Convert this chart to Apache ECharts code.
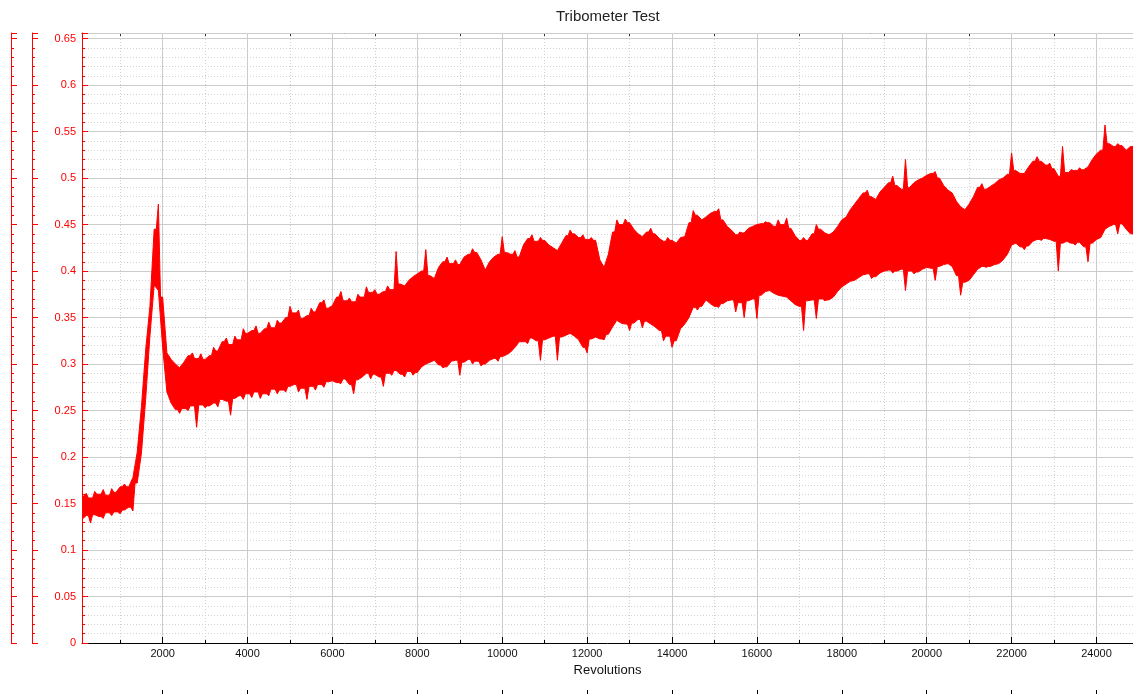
<!DOCTYPE html>
<html><head><meta charset="utf-8">
<script src="https://cdn.jsdelivr.net/npm/echarts@6/dist/echarts.min.js"></script>
<style>html,body{margin:0;padding:0;background:#fff}#c{width:1133px;height:694px}</style>
</head><body><div id="c"></div>
<script>
// Sampling of the trace: one envelope reading every 100 revolutions, starting at 100
const revStart = 100;
const revStep = 100;

// Upper envelope of the friction trace
const frictionHigh = [
  0.158,0.161,0.156,0.163,0.160,0.165,0.159,0.166,0.162,0.168,
  0.171,0.168,0.178,0.205,0.254,0.315,0.362,0.445,0.472,0.372,
  0.312,0.305,0.300,0.296,0.302,0.309,0.312,0.306,0.311,0.305,
  0.309,0.318,0.314,0.324,0.328,0.321,0.330,0.326,0.338,0.333,
  0.336,0.341,0.333,0.338,0.345,0.339,0.347,0.344,0.350,0.362,
  0.355,0.358,0.349,0.352,0.360,0.356,0.366,0.369,0.360,0.363,
  0.372,0.378,0.368,0.371,0.367,0.375,0.372,0.383,0.377,0.380,
  0.375,0.378,0.384,0.380,0.421,0.386,0.384,0.390,0.394,0.397,
  0.400,0.423,0.395,0.392,0.404,0.410,0.415,0.408,0.412,0.407,
  0.415,0.418,0.424,0.420,0.412,0.401,0.410,0.415,0.418,0.437,
  0.420,0.418,0.422,0.415,0.428,0.435,0.439,0.432,0.436,0.433,
  0.428,0.425,0.422,0.430,0.438,0.444,0.440,0.436,0.439,0.434,
  0.436,0.433,0.412,0.404,0.418,0.442,0.455,0.450,0.456,0.452,
  0.445,0.440,0.437,0.442,0.446,0.440,0.435,0.432,0.436,0.433,
  0.430,0.436,0.437,0.452,0.465,0.460,0.455,0.458,0.462,0.464,
  0.467,0.455,0.448,0.444,0.439,0.442,0.441,0.446,0.448,0.450,
  0.451,0.453,0.452,0.448,0.455,0.450,0.457,0.446,0.438,0.433,
  0.436,0.433,0.440,0.450,0.445,0.441,0.439,0.442,0.448,0.455,
  0.458,0.466,0.472,0.478,0.484,0.487,0.480,0.477,0.485,0.490,
  0.495,0.502,0.492,0.488,0.520,0.490,0.495,0.498,0.500,0.503,
  0.505,0.507,0.500,0.492,0.487,0.484,0.475,0.469,0.466,0.472,
  0.480,0.490,0.494,0.488,0.491,0.494,0.498,0.500,0.504,0.527,
  0.508,0.505,0.505,0.512,0.518,0.523,0.518,0.514,0.516,0.510,
  0.502,0.534,0.506,0.509,0.508,0.511,0.509,0.512,0.520,0.526,
  0.530,0.557,0.537,0.534,0.537,0.535,0.530,0.534
];

// Lower envelope of the friction trace
const frictionLow = [
  0.133,0.137,0.129,0.138,0.136,0.134,0.140,0.137,0.141,0.139,
  0.143,0.146,0.142,0.172,0.204,0.262,0.330,0.385,0.379,0.318,
  0.270,0.258,0.251,0.247,0.252,0.250,0.255,0.232,0.256,0.253,
  0.255,0.258,0.254,0.262,0.260,0.245,0.263,0.266,0.262,0.268,
  0.264,0.270,0.263,0.268,0.266,0.273,0.268,0.272,0.270,0.276,
  0.278,0.270,0.274,0.262,0.276,0.272,0.278,0.275,0.281,0.282,
  0.280,0.279,0.284,0.278,0.268,0.283,0.286,0.290,0.284,0.289,
  0.286,0.276,0.290,0.288,0.293,0.289,0.286,0.292,0.288,0.291,
  0.297,0.300,0.302,0.304,0.299,0.296,0.297,0.303,0.304,0.288,
  0.302,0.305,0.300,0.303,0.298,0.300,0.304,0.306,0.303,0.308,
  0.310,0.313,0.318,0.324,0.324,0.322,0.328,0.325,0.304,0.326,
  0.328,0.330,0.304,0.329,0.331,0.333,0.330,0.326,0.318,0.312,
  0.327,0.329,0.327,0.326,0.332,0.340,0.347,0.344,0.343,0.336,
  0.344,0.348,0.339,0.346,0.343,0.340,0.336,0.325,0.330,0.318,
  0.325,0.338,0.343,0.350,0.361,0.358,0.362,0.369,0.365,0.362,
  0.361,0.365,0.368,0.369,0.356,0.366,0.350,0.368,0.370,0.349,
  0.374,0.378,0.379,0.376,0.374,0.373,0.372,0.368,0.364,0.362,
  0.336,0.368,0.369,0.349,0.370,0.368,0.369,0.372,0.378,0.383,
  0.386,0.389,0.390,0.393,0.396,0.397,0.392,0.394,0.398,0.400,
  0.401,0.398,0.400,0.402,0.379,0.400,0.397,0.399,0.402,0.404,
  0.403,0.390,0.405,0.407,0.408,0.405,0.395,0.374,0.388,0.390,
  0.396,0.402,0.405,0.404,0.405,0.407,0.408,0.412,0.418,0.428,
  0.430,0.426,0.423,0.427,0.432,0.434,0.433,0.435,0.434,0.432,
  0.400,0.430,0.432,0.430,0.428,0.431,0.426,0.410,0.430,0.434,
  0.436,0.445,0.448,0.450,0.440,0.451,0.445,0.440
];

const xRange = [100, 24860];
const yRange = [0, 0.656];
const xTickValues = [2000,4000,6000,8000,10000,12000,14000,16000,18000,20000,22000,24000];
const xMajorStep = 2000;
const xMinorStep = 1000;
const yMajorStep = 0.05;
const yMinorStep = 0.01;
const titleText = 'Tribometer Test';
const xName = 'Revolutions';

// Band outline: readings that stick out from their neighbours are drawn as narrow spikes
const n = frictionHigh.length;
const isPeak = j => j > 0 && j < n - 1 && frictionHigh[j] >= frictionHigh[j - 1] && frictionHigh[j] >= frictionHigh[j + 1];
const isTrough = j => j > 0 && j < n - 1 && frictionLow[j] <= frictionLow[j - 1] && frictionLow[j] <= frictionLow[j + 1];
const upperEdge = [];
const lowerEdge = [];
for (let i = 0; i < n; i++) {
  const r = revStart + i * revStep;
  upperEdge.push([r, frictionHigh[i]]);
  lowerEdge.push([r, frictionLow[i]]);
  if (i < n - 1 && (isPeak(i) || isPeak(i + 1))) {
    upperEdge.push([r + revStep / 2, Math.min(frictionHigh[i], frictionHigh[i + 1])]);
  }
  if (i < n - 1 && (isTrough(i) || isTrough(i + 1))) {
    lowerEdge.push([r + revStep / 2, Math.max(frictionLow[i], frictionLow[i + 1])]);
  }
}
upperEdge.push([xRange[1], frictionHigh[n - 1]]);
lowerEdge.push([xRange[1], frictionLow[n - 1]]);

const FONT = '"Liberation Sans", Arial, sans-serif';
const RED = '#ff0000';
const isMult = (v, s) => Math.abs(v / s - Math.round(v / s)) < 1e-6;

function xAx(o) {
  return Object.assign({
    type: 'value', min: xRange[0], max: xRange[1],
    axisLine: { show: false, onZero: false },
    axisTick: { show: false },
    axisLabel: { show: false },
    splitLine: { show: false }
  }, o);
}
function yAx(o) {
  return Object.assign({
    type: 'value', min: yRange[0], max: yRange[1],
    axisLine: { show: false, onZero: false },
    axisTick: { show: false },
    axisLabel: { show: false },
    splitLine: { show: false }
  }, o);
}

const chart = echarts.init(document.getElementById('c'), null, { renderer: 'canvas' });
chart.setOption({
  backgroundColor: '#ffffff',
  animation: false,
  title: {
    text: titleText, left: 556, top: 9, padding: 0,
    textStyle: { fontFamily: FONT, fontSize: 15, fontWeight: 'normal', color: '#222' }
  },
  grid: { left: 82, right: 0, top: 33, bottom: 51, containLabel: false },
  xAxis: [
    xAx({ // main bottom axis
      position: 'bottom', splitNumber: 12, minInterval: xMajorStep, maxInterval: xMajorStep,
      name: xName, nameLocation: 'middle', nameGap: 18,
      nameTextStyle: { fontFamily: FONT, fontSize: 13, color: '#111' },
      axisLine: { show: true, onZero: false, lineStyle: { color: '#000', width: 1 } },
      axisTick: { show: true, inside: true, length: 6, customValues: xTickValues, lineStyle: { color: '#000' } },
      axisLabel: { show: true, margin: 5, fontFamily: FONT, fontSize: 11, color: '#111',
        customValues: xTickValues,
        formatter: v => isMult(v, xMajorStep) ? String(v) : '' },
      splitLine: { show: true, lineStyle: { color: '#cccccc', width: 1 } },
      z: 3
    }),
    xAx({ // minor bottom (ticks + dotted grid)
      position: 'bottom', splitNumber: 25, minInterval: xMinorStep, maxInterval: xMinorStep,
      axisTick: { show: true, inside: true, length: 3, lineStyle: { color: '#000' } },
      splitLine: { show: true, lineStyle: { color: '#d2d2d2', width: 1, type: [1, 2] } },
      z: 1
    }),
    xAx({ // top border axis
      position: 'top', splitNumber: 12, minInterval: xMajorStep, maxInterval: xMajorStep,
      axisLine: { show: true, onZero: false, lineStyle: { color: '#000', width: 1 } },
      axisTick: { show: true, inside: true, length: 5, customValues: xTickValues, lineStyle: { color: '#000' } }
    }),
    xAx({ // top minor ticks
      position: 'top', splitNumber: 25, minInterval: xMinorStep, maxInterval: xMinorStep,
      axisTick: { show: true, inside: true, length: 3, lineStyle: { color: '#333' } }
    }),
    xAx({ // extra bottom axis (ticks only, line below the picture)
      position: 'bottom', offset: 53, splitNumber: 12, minInterval: xMajorStep, maxInterval: xMajorStep,
      axisTick: { show: true, inside: true, length: 6, customValues: xTickValues, lineStyle: { color: '#000' } }
    })
  ],
  yAxis: [
    yAx({ // main left axis
      position: 'left', interval: yMajorStep,
      axisLine: { show: true, onZero: false, lineStyle: { color: RED, width: 1 } },
      axisTick: { show: true, inside: true, length: 6, lineStyle: { color: RED } },
      axisLabel: { show: true, margin: 6, fontFamily: FONT, fontSize: 11, color: RED,
        formatter: v => isMult(v, yMajorStep) ? String(+v.toFixed(2)) : '' },
      splitLine: { show: true, lineStyle: { color: '#cccccc', width: 1 } },
      z: 3
    }),
    yAx({ // main left minor
      position: 'left', interval: yMinorStep,
      axisTick: { show: true, inside: true, length: 3, lineStyle: { color: RED } },
      splitLine: { show: true, lineStyle: { color: '#d2d2d2', width: 1, type: [1, 2] } },
      z: 1
    }),
    yAx({ position: 'left', offset: 50, interval: yMajorStep,
      axisLine: { show: true, onZero: false, lineStyle: { color: RED, width: 1 } },
      axisTick: { show: true, inside: true, length: 6, lineStyle: { color: RED } } }),
    yAx({ position: 'left', offset: 50, interval: yMinorStep,
      axisTick: { show: true, inside: true, length: 3, lineStyle: { color: RED } } }),
    yAx({ position: 'left', offset: 71, interval: yMajorStep,
      axisLine: { show: true, onZero: false, lineStyle: { color: RED, width: 1 } },
      axisTick: { show: true, inside: true, length: 6, lineStyle: { color: RED } } }),
    yAx({ position: 'left', offset: 71, interval: yMinorStep,
      axisTick: { show: true, inside: true, length: 3, lineStyle: { color: RED } } }),
    yAx({ position: 'right', interval: yMajorStep,
      axisTick: { show: true, inside: true, length: 2, lineStyle: { color: RED } } })
  ],
  series: [{
    type: 'custom', xAxisIndex: 0, yAxisIndex: 0, silent: true, clip: true, z: 10,
    data: [[xRange[0], yRange[0]]],
    renderItem: function (params, api) {
      const pts = [];
      for (const p of upperEdge) pts.push(api.coord(p));
      for (let i = lowerEdge.length - 1; i >= 0; i--) pts.push(api.coord(lowerEdge[i]));
      return {
        type: 'polygon',
        shape: { points: pts },
        style: { fill: RED, stroke: RED, lineWidth: 1, lineJoin: 'miter' }
      };
    }
  }]
});
</script>
</body></html>
